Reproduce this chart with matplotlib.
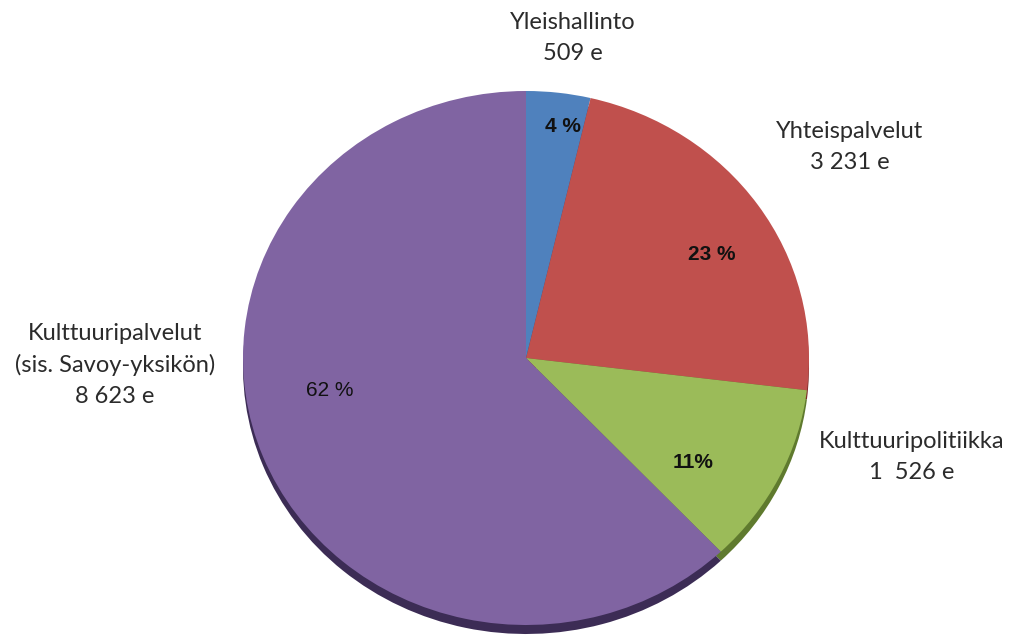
import numpy as np
import matplotlib.pyplot as plt

# data (euro amounts)
categories = ['Yleishallinto', 'Yhteispalvelut', 'Kulttuuripolitiikka',
              'Kulttuuripalvelut\n(sis. Savoy-yksikön)']
amounts = [509, 3231, 1526, 8623]
amount_labels = ['509 e', '3 231 e', '1  526 e', '8 623 e']
pct_labels = ['4 %', '23 %', '11%', '62 %']

colors = ['#4f81bd', '#c0504d', '#9bbb59', '#8064a2']
side_colors = ['#2e5183', '#7d2b29', '#5f7a2e', '#3c2c55']

W, H = 1015, 640
cx, cy = 526, 358      # pie centre in pixels (from top-left)
rx, ry = 283, 267      # ellipse radii in pixels

fig = plt.figure(figsize=(W / 100, H / 100), dpi=100)
ax = fig.add_axes([0, 0, 1, 1])

# shadow/side of the tilted pie, drawn a bit lower
depth = 9 / ry
ax.pie(amounts, colors=side_colors, startangle=90, counterclock=False,
       center=(0, -depth), radius=1, wedgeprops=dict(linewidth=0))
ax.pie(amounts, colors=colors, startangle=90, counterclock=False,
       center=(0, 0), radius=1, wedgeprops=dict(linewidth=0))

ax.set_aspect('auto')
ax.set_xlim(-cx / rx, (W - cx) / rx)
ax.set_ylim(-(H - cy) / ry, cy / ry)
ax.axis('off')


def px(x, y):
    # pixel position of the picture -> data coords
    return (x - cx) / rx, (cy - y) / ry


# percentage labels inside slices
pct_pos = [(563, 127), (712, 255), (693, 463), (330, 390)]
pct_weight = ['bold', 'bold', 'bold', 'normal']
for lab, (x, y), w in zip(pct_labels, pct_pos, pct_weight):
    ax.text(*px(x, y), lab, ha='center', va='center', fontsize=15,
            fontweight=w, family='Liberation Sans', color='#111111')

# category labels outside
cat_pos = [(573, 38), (850, 147), (912, 457), (115, 365)]
for cat, amt, (x, y) in zip(categories, amount_labels, cat_pos):
    ax.text(*px(x, y), cat + '\n' + amt, ha='center', va='center',
            fontsize=17, family='Lato', color='#2b2b2b', linespacing=1.55)

fig.savefig('out.png', dpi=100)
